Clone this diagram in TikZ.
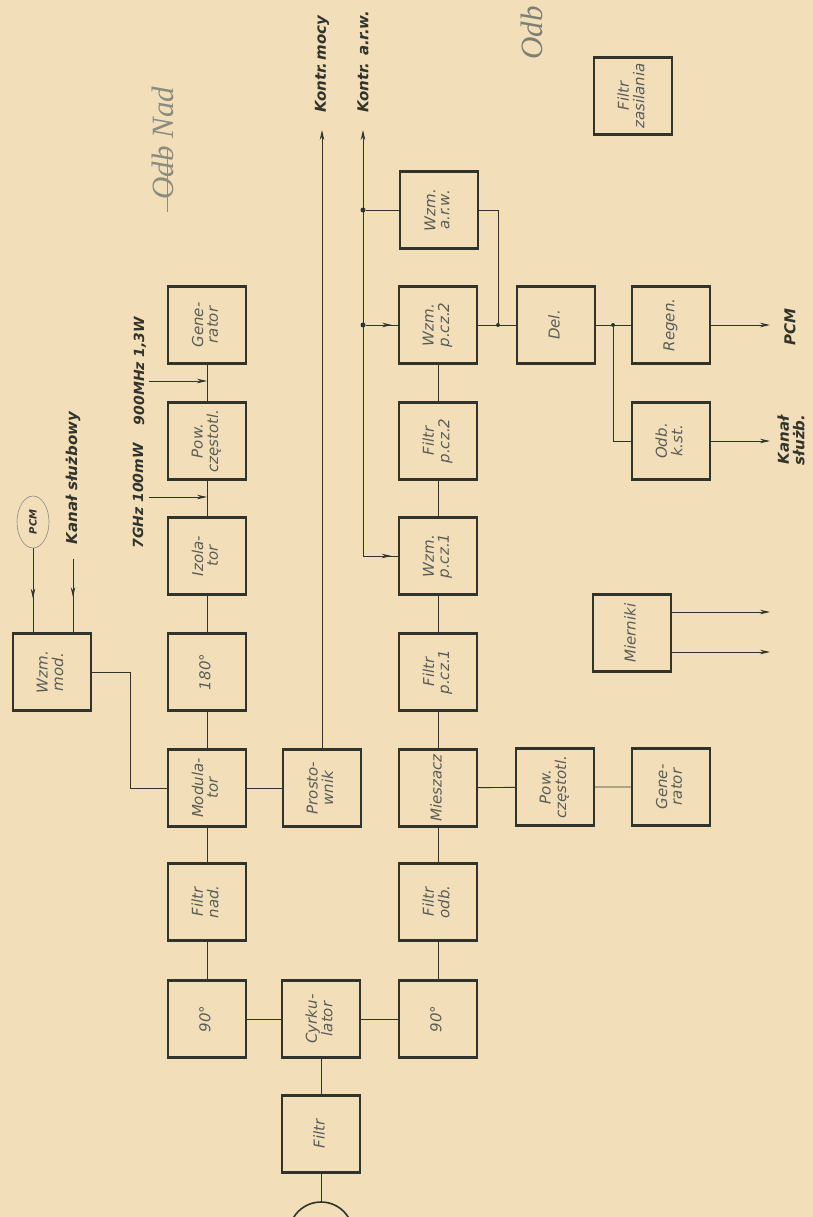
\documentclass[tikz,border=0pt]{standalone}
\usepackage{fontspec}
\setmainfont{DejaVu Sans}
\newfontfamily\handfont{Liberation Serif}
\usetikzlibrary{arrows.meta,decorations.markings}
\definecolor{paper}{RGB}{243,222,186}
\definecolor{ink}{RGB}{48,52,42}
\definecolor{pencil}{RGB}{138,140,128}
\renewcommand\arraystretch{0.88}
\newcommand\rtext[1]{\rotatebox{90}{\begin{tabular}{@{}c@{}}#1\end{tabular}}}

\begin{document}
\begin{tikzpicture}[x=1pt,y=-1pt,
  blk/.style={draw=ink,line width=2.2pt,minimum width=78pt,minimum height=77pt,
    inner sep=0pt,text=ink!80,font=\itshape\fontsize{15}{16}\selectfont},
  wire/.style={draw=ink,line width=0.9pt},
  tip/.style={-{Stealth[length=10pt,width=4.5pt]}},
  midtip/.style={postaction={decorate},decoration={markings,
    mark=at position #1 with {\arrow{Stealth[length=10pt,width=4.5pt]}}}},
  lab/.style={text=ink,font=\bfseries\itshape\fontsize{15}{16}\selectfont,inner sep=0pt},
  dot/.style={circle,fill=ink,inner sep=0pt,minimum size=5pt},
  hand/.style={text=pencil,font=\handfont\itshape\fontsize{31}{31}\selectfont,inner sep=0pt,rotate=90},
]
\fill[paper] (0,0) rectangle (813,1217);
\useasboundingbox (0,0) rectangle (813,1217);

% pencil notes
\node[hand] (noteL) at (163,143) {Odb Nad};
\coordinate (strA) at (167,150);
\coordinate (strB) at (167,212);
\draw[pencil,line width=0.9pt] (strA) -- (strB);
\node[hand,text=pencil!85!ink] (noteR) at (532,33) {Odb};

% transmitter chain
\node[blk] (gen1) at (207,325) {\rtext{Gene-\\rator}};
\node[blk] (pow1) at (207,441) {\rtext{Pow.\\częstotl.}};
\node[blk] (izo)  at (207,556) {\rtext{Izola-\\tor}};
\node[blk] (d180) at (207,672) {\rtext{180°}};
\node[blk] (mod)  at (207,788) {\rtext{Modula-\\tor}};
\node[blk] (fnad) at (207,902) {\rtext{Filtr\\nad.}};
\node[blk] (p90a) at (207,1019) {\rtext{90°}};

\node[blk] (wzmmod) at (52,672) {\rtext{Wzm.\\mod.}};

% middle column
\node[blk] (prost) at (322,788) {\rtext{Prosto-\\wnik}};
\node[blk] (cyrk)  at (321,1019) {\rtext{Cyrku-\\lator}};
\node[blk] (filtr) at (321,1134) {\rtext{Filtr}};

% receiver chain
\node[blk] (warw)  at (439,210) {\rtext{Wzm.\\a.r.w.}};
\node[blk] (wpcz2) at (438,325) {\rtext{Wzm.\\p.cz.2}};
\node[blk] (fpcz2) at (438,441) {\rtext{Filtr\\p.cz.2}};
\node[blk] (wpcz1) at (438,556) {\rtext{Wzm.\\p.cz.1}};
\node[blk] (fpcz1) at (438,672) {\rtext{Filtr\\p.cz.1}};
\node[blk] (miesz) at (438,788) {\rtext{Mieszacz}};
\node[blk] (fodb)  at (438,902) {\rtext{Filtr\\odb.}};
\node[blk] (p90b)  at (438,1019) {\rtext{90°}};

\node[blk] (del)   at (556,325) {\rtext{Del.}};
\node[blk] (pow2)  at (555,787) {\rtext{Pow.\\częstotl.}};
\node[blk] (regen) at (671,325) {\rtext{Regen.}};
\node[blk] (odb)   at (671,441) {\rtext{Odb.\\k.st.}};
\node[blk] (gen2)  at (671,787) {\rtext{Gene-\\rator}};
\node[blk] (mier)  at (632,633) {\rtext{Mierniki}};
\node[blk] (fzas)  at (633,96)  {\rtext{Filtr\\zasilania}};

% transmitter links
\draw[wire] (gen1) -- (pow1) -- (izo) -- (d180) -- (mod) -- (fnad) -- (p90a);
\coordinate (in9) at (149,381);
\coordinate (in7) at (149,497);
\draw[wire,tip] (in9) -- (in9 -| gen1);
\draw[wire,tip] (in7) -- (in7 -| izo);
\node[lab,rotate=90,font=\bfseries\itshape\fontsize{14}{15}\selectfont] (l900) at (140,371) {900MHz 1,3W};
\node[lab,rotate=90,font=\bfseries\itshape\fontsize{14}{15}\selectfont] (l7g) at (138,496) {7GHz 100mW};

\coordinate (pcmtail) at (33,548);
\coordinate (kstail) at (73,559);
\draw[wire,midtip=0.6] (pcmtail) -- (pcmtail |- wzmmod.north);
\draw[wire,midtip=0.52] (kstail) -- (kstail |- wzmmod.north);
\node[lab,rotate=90,font=\bfseries\itshape\fontsize{10}{10}\selectfont] (pcmin) at (33,522) {PCM};
\draw[pencil,line width=0.6pt] (pcmin) ellipse[x radius=16pt,y radius=26pt];
\node[lab,rotate=90] (lks) at (73,478) {Kanał służbowy};
\draw[wire] (wzmmod.east) -- ++(38,0) |- (mod.west);

\draw[wire] (mod) -- (prost);
\coordinate (kmtip) at (322,130);
\draw[wire,tip] (prost.north) -- (prost.north |- kmtip);
\node[lab,rotate=90,anchor=west] (lkm) at (322,113) {Kontr.\,mocy};

% antenna side
\draw[wire] (p90a) -- (cyrk) -- (p90b);
\draw[wire] (cyrk) -- (filtr);
\coordinate (ant) at (321,1202);
\draw[wire] (filtr.south) -- (ant);
\begin{scope}
  \clip (0,0) rectangle (813,1217);
  \draw[ink,line width=1.6pt] ([yshift=-32pt]ant) circle[radius=32pt];
\end{scope}

% receiver links
\draw[wire] (wpcz2) -- (fpcz2) -- (wpcz1) -- (fpcz1) -- (miesz) -- (fodb) -- (p90b);
\draw[wire] (miesz) -- (pow2) -- (gen2);

\coordinate (arwtip) at (363,130);
\coordinate (arwbot) at (arwtip |- wpcz1.west);
\draw[wire,tip] (arwbot) -- (arwtip);
\node[lab,rotate=90,anchor=west] (lka) at (363,113) {Kontr. a.r.w.};
\node[dot] (dA) at (arwtip |- warw.west) {};
\node[dot] (dB) at (arwtip |- wpcz2.west) {};
\draw[wire] (dA) -- (warw.west);
\draw[wire,midtip=0.82] (dB) -- (wpcz2.west);
\draw[wire,midtip=0.82] (arwbot) -- (wpcz1.west);

\draw[wire,line width=0.6pt] (wpcz2) -- (del);
\node[dot,minimum size=4pt] (dC) at (498,325) {};
\draw[wire] (warw.east) -| (dC);
\draw[wire,line width=0.6pt] (del) -- (regen);
\node[dot,minimum size=4pt] (dD) at (613,325) {};
\draw[wire] (dD) |- (odb.west);

\coordinate (pcmout) at (770,325);
\coordinate (ksout) at (770,441);
\draw[wire,tip] (regen.east) -- (pcmout);
\draw[wire,tip] (odb.east) -- (ksout);
\node[lab,rotate=90] (lpcm) at (790,327) {PCM};
\node[lab] (lkso) at (793,440) {\rtext{Kanał\\służb.}};

\coordinate (mo1) at (770,612);
\coordinate (mo2) at (770,652);
\draw[wire,tip] (mo1 -| mier.east) -- (mo1);
\draw[wire,tip] (mo2 -| mier.east) -- (mo2);
\end{tikzpicture}
\end{document}
